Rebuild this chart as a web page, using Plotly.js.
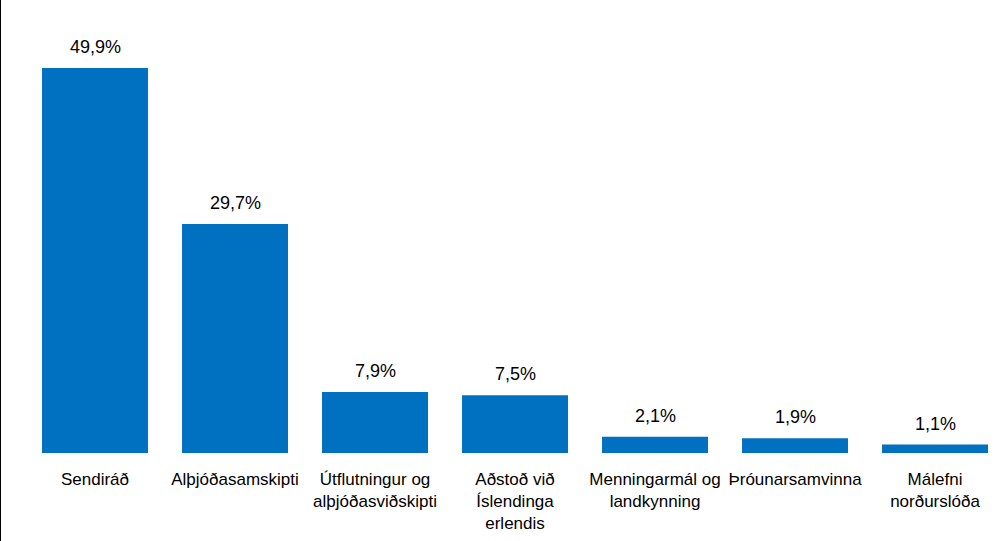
<!DOCTYPE html>
<html>
<head>
<meta charset="utf-8">
<script src="https://cdn.plot.ly/plotly-3.0.1.min.js"></script>
<style>
html,body{margin:0;padding:0;background:#fff;}
#chart{width:998px;height:541px;border-left:1px solid #000;}
</style>
</head>
<body>
<div id="chart"></div>
<script>
const categories = ["Sendiráð", "Alþjóðasamskipti", "Útflutningur og<br>alþjóðasviðskipti", "Aðstoð við<br>Íslendinga<br>erlendis", "Menningarmál og<br>landkynning", "Þróunarsamvinna", "Málefni<br>norðurslóða"];
const values = [49.9, 29.7, 7.9, 7.5, 2.1, 1.9, 1.1];
const valueLabels = values.map(v => v.toFixed(1).replace('.', ',') + '%');

const fam = "'Liberation Sans', Arial, sans-serif";

const trace = {
  type: 'bar',
  x: categories,
  y: values,
  marker: {color: '#0070C0'},
  width: 0.757,
  hoverinfo: 'none'
};

const annotations = categories.map((c, i) => ({
  x: c, y: values[i], xref: 'x', yref: 'y',
  text: valueLabels[i], showarrow: false,
  yanchor: 'bottom', yshift: 9,
  font: {family: fam, size: 18, color: '#000'}
}));

const layout = {
  width: 998, height: 541,
  margin: {l: 24, r: 0, t: 0, b: 88},
  paper_bgcolor: '#fff', plot_bgcolor: '#fff',
  showlegend: false,
  bargap: 0.243,
  xaxis: {
    range: [-0.5, 6.457], showgrid: false, zeroline: false, showline: false,
    ticks: '', tickangle: 0, automargin: false,
    tickfont: {family: fam, size: 17, color: '#000'},
    ticklabelstandoff: 14
  },
  yaxis: {
    range: [0, 58.72], visible: false, showgrid: false, zeroline: false
  },
  annotations: annotations
};

Plotly.newPlot('chart', [trace], layout, {displayModeBar: false, staticPlot: true});
</script>
</body>
</html>
